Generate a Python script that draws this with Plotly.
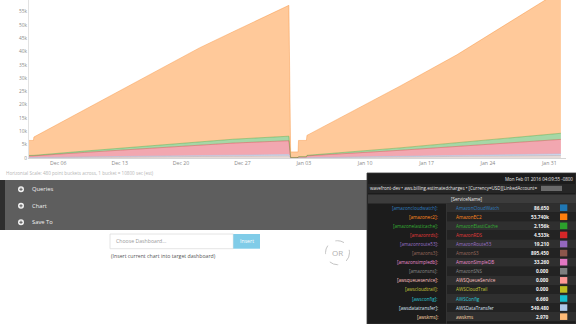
import plotly.graph_objects as go

# ---------------- data ----------------
dates = ['2015-12-02 16:00', '2015-12-03 04:00', '2015-12-03 05:30', '2015-12-09 00:00',
         '2015-12-16 00:00', '2015-12-22 02:24', '2015-12-25 21:36', '2016-01-01 07:12',
         '2016-01-01 12:00', '2016-01-02 08:24', '2016-01-02 09:36', '2016-01-03 07:12',
         '2016-01-03 08:40', '2016-01-13 23:00', '2016-01-20 11:00', '2016-01-30 11:45',
         '2016-02-01 07:40']
amazon_s3 = [90, 90, 100, 260, 430, 600, 690, 810, 30, 30, 60, 60, 70, 410, 590, 900, 960]
aws_data_transfer = [60, 60, 60, 160, 270, 360, 430, 490, 20, 20, 40, 40, 50, 250, 360, 550, 590]
amazon_rds = [610, 610, 640, 1680, 2800, 3840, 4480, 5200, 100, 100, 300, 300, 680, 2240, 3350, 5150, 5450]
amazon_elasticache = [200, 200, 200, 500, 900, 1300, 1450, 1700, 50, 50, 100, 100, 200, 900, 1400, 2150, 2300]
amazon_ec2 = [5640, 5640, 6900, 15500, 26100, 35300, 40350, 49200, 2100, 2100, 6100, 6100, 7500,
              23200, 33100, 50550, 52900]

y_tick_vals = [0, 5000, 10000, 15000, 20000, 25000, 30000, 35000, 40000, 45000, 50000, 55000]
y_tick_text = ['0', '5k', '10k', '15k', '20k', '25k', '30k', '35k', '40k', '45k', '50k', '55k']
x_tick_vals = ['2015-12-06', '2015-12-13', '2015-12-20', '2015-12-27', '2016-01-03',
               '2016-01-10', '2016-01-17', '2016-01-24', '2016-01-31']
x_tick_text = ['Dec 06', 'Dec 13', 'Dec 20', 'Dec 27', 'Jan 03', 'Jan 10', 'Jan 17', 'Jan 24', 'Jan 31']

tooltip_keys = ['[amazoncloudwatch]:', '[amazonec2]:', '[amazonelasticache]:', '[amazonrds]:',
                '[amazonroute53]:', '[amazons3]:', '[amazonsimpledb]:', '[amazonsns]:',
                '[awsqueueservice]:', '[awscloudtrail]:', '[awsconfig]:', '[awsdatatransfer]:',
                '[awskms]:']
tooltip_names = ['AmazonCloudWatch', 'AmazonEC2', 'AmazonElastiCache', 'AmazonRDS', 'AmazonRoute53',
                 'AmazonS3', 'AmazonSimpleDB', 'AmazonSNS', 'AWSQueueService', 'AWSCloudTrail',
                 'AWSConfig', 'AWSDataTransfer', 'awskms']
tooltip_values = ['86.650', '53.740k', '2.156k', '4.533k', '19.210', '895.450', '33.260', '0.000',
                  '0.000', '0.000', '6.660', '549.480', '2.970']
tooltip_colors = ['#1f77b4', '#ff7f0e', '#2ca02c', '#d62728', '#9467bd', '#8c564b', '#e377c2',
                  '#7f7f7f', '#ff9896', '#bcbd22', '#17becf', '#aec7e8', '#ffbb78']
tooltip_text_colors = ['#2f7fc0', '#ff8a1e', '#34b034', '#e03a3a', '#9a72c8', '#9a6a5e', '#e88ccc',
                       '#8a8a8a', '#ffc0c0', '#c8c93a', '#2ac8d8', '#d8e4f4', '#ffd8a8']
menu_items = ['Queries', 'Chart', 'Save To']

FONT = 'Open Sans, sans-serif'

# ---------------- pixel helpers ----------------
W_FIG, H_FIG = 576, 324
L, R, T, B = 29, 566, 0, 158
PW, PH = R - L, B - T


def px(x):
    return (x - L) / PW


def py(y):
    return (B - y) / PH


fig = go.Figure()

series = [
    ('AmazonS3', amazon_s3, 'rgba(140,86,75,0.22)', 'rgba(140,86,75,0.3)'),
    ('AWSDataTransfer', aws_data_transfer, 'rgba(174,199,232,0.6)', 'rgba(174,199,232,0.7)'),
    ('AmazonRDS', amazon_rds, 'rgba(226,60,80,0.45)', 'rgba(214,39,40,0.5)'),
    ('AmazonElastiCache', amazon_elasticache, 'rgba(44,160,44,0.42)', 'rgba(44,160,44,0.5)'),
    ('AmazonEC2', amazon_ec2, 'rgba(255,135,30,0.45)', 'rgba(245,140,50,0.6)'),
]
for name, vals, fc, lc in series:
    fig.add_trace(go.Scatter(x=dates, y=vals, mode='lines', stackgroup='one', name=name,
                             fillcolor=fc, line=dict(color=lc, width=0.7), hoverinfo='skip'))

shapes = []
annotations = []


def rect(x0, y0, x1, y1, fill, line=None, lw=0, dash=None):
    d = dict(type='rect', xref='paper', yref='paper', x0=px(x0), x1=px(x1), y0=py(y1), y1=py(y0),
             fillcolor=fill, line=dict(color=line or fill, width=lw), layer='above')
    if dash:
        d['line']['dash'] = dash
    shapes.append(d)


def seg(x0, y0, x1, y1, color, lw=1):
    shapes.append(dict(type='line', xref='paper', yref='paper', x0=px(x0), x1=px(x1),
                       y0=py(y0), y1=py(y1), line=dict(color=color, width=lw), layer='above'))


def text(x, y, s, size, color, xanchor='left', bold=False):
    if bold:
        s = '<b>' + s + '</b>'
    annotations.append(dict(x=px(x), y=py(y), xref='paper', yref='paper', text=s, showarrow=False,
                            xanchor=xanchor, yanchor='middle', borderpad=0,
                            font=dict(family=FONT, size=size, color=color)))


# caption under chart
text(5, 173, 'Horizontal Scale: 480 point buckets across, 1 bucket = 10800 sec (est)', 4.6, '#b5b5b5')

# dark menu panel
rect(0, 180, 368, 230, '#5e5e5e')
rect(0, 180, 5, 230, '#2e2e2e')
for i, item in enumerate(menu_items):
    yy = 189.3 + i * 16.5
    shapes.append(dict(type='circle', xref='paper', yref='paper', x0=px(18), x1=px(24),
                       y0=py(yy + 3), y1=py(yy - 3), fillcolor='#f2f2f2',
                       line=dict(color='#f2f2f2', width=0), layer='above'))
    seg(19.4, yy, 22.6, yy, '#5e5e5e', 1)
    seg(21, yy - 1.6, 21, yy + 1.6, '#5e5e5e', 1)
    text(30.5, yy, item, 5.8, '#f0f0f0')

# dashboard chooser
rect(110, 234, 233.3, 248.7, '#ffffff', '#dddddd', 0.8)
text(115, 241.3, 'Choose Dashboard...', 5.2, '#9a9a9a')
rect(233.3, 234, 260, 248.7, '#80cce8')
text(246.7, 241.3, 'Insert', 5.2, '#ffffff', xanchor='center')
text(110, 256, '(Insert current chart into target dashboard)', 5.2, '#555555')
shapes.append(dict(type='circle', xref='paper', yref='paper', x0=px(325.5), x1=px(349.5),
                   y0=py(264.7), y1=py(240.7), line=dict(color='#c4c4c4', width=1, dash='dash'),
                   layer='above'))
text(337.5, 252.7, 'OR', 8, '#b0b0b0', xanchor='center')

# tooltip box
TX0, TX1, TY0 = 367, 576, 173
rect(TX0, TY0, TX1, 324, '#1c1c1c', '#3a3a3a', 0.8)
rect(TX0 + 1, 184, TX1, 193, '#262626')
rect(TX0 + 1, 194.5, TX1, 203.5, '#3c3c3c')
text(574, 179.3, 'Mon Feb 01 2016 04:09:55 -0800', 4.5, '#e8e8e8', xanchor='right')
text(369, 188.4, 'wavefront-dev \u2022 aws.billing.estimatedcharges \u2022 [Currency=USD][LinkedAccount=',
     4.5, '#e8e8e8')
rect(541, 185.8, 562, 191, '#6a6a6a')
text(467, 199.2, '[ServiceName]', 4.6, '#e8e8e8', xanchor='center')

ROW0, DY = 207.7, 9.08
for i in range(len(tooltip_keys)):
    yy = ROW0 + i * DY
    rect(447, yy - DY / 2, TX1, yy + DY / 2, '#2f2f2f' if i % 2 == 0 else '#232323')
    text(438.5, yy, tooltip_keys[i], 4.6, tooltip_text_colors[i], xanchor='right')
    text(454.5, yy, tooltip_names[i], 4.6, tooltip_text_colors[i])
    text(549.5, yy, tooltip_values[i], 4.8, '#f2f2f2', xanchor='right', bold=True)
    rect(560, yy - 3.3, 567.3, yy + 3.3, tooltip_colors[i])
seg(446.5, 203.5, 446.5, 324, '#3a3a3a', 0.8)

fig.update_layout(
    width=W_FIG, height=H_FIG, autosize=False,
    margin=dict(l=L, r=W_FIG - R, t=T, b=H_FIG - B, pad=0),
    paper_bgcolor='#ffffff', plot_bgcolor='#ffffff',
    showlegend=False, hovermode=False,
    font=dict(family=FONT),
    xaxis=dict(type='date', range=['2015-12-02 16:00', '2016-02-01 21:36'],
               tickmode='array', tickvals=x_tick_vals, ticktext=x_tick_text,
               tickfont=dict(size=5.2, color='#8a8a8a', family=FONT),
               showgrid=False, zeroline=False, showline=True, linecolor='#d6d6d6', linewidth=1,
               ticks='', fixedrange=True),
    yaxis=dict(range=[0, 59400], tickmode='array', tickvals=y_tick_vals, ticktext=y_tick_text,
               tickfont=dict(size=4.8, color='#8a8a8a', family=FONT),
               showgrid=False, zeroline=False, showline=True, linecolor='#e2e2e2', linewidth=1,
               ticks='', fixedrange=True),
    shapes=shapes, annotations=annotations,
)

fig.write_html('out.html', config={'displayModeBar': False, 'staticPlot': True})
